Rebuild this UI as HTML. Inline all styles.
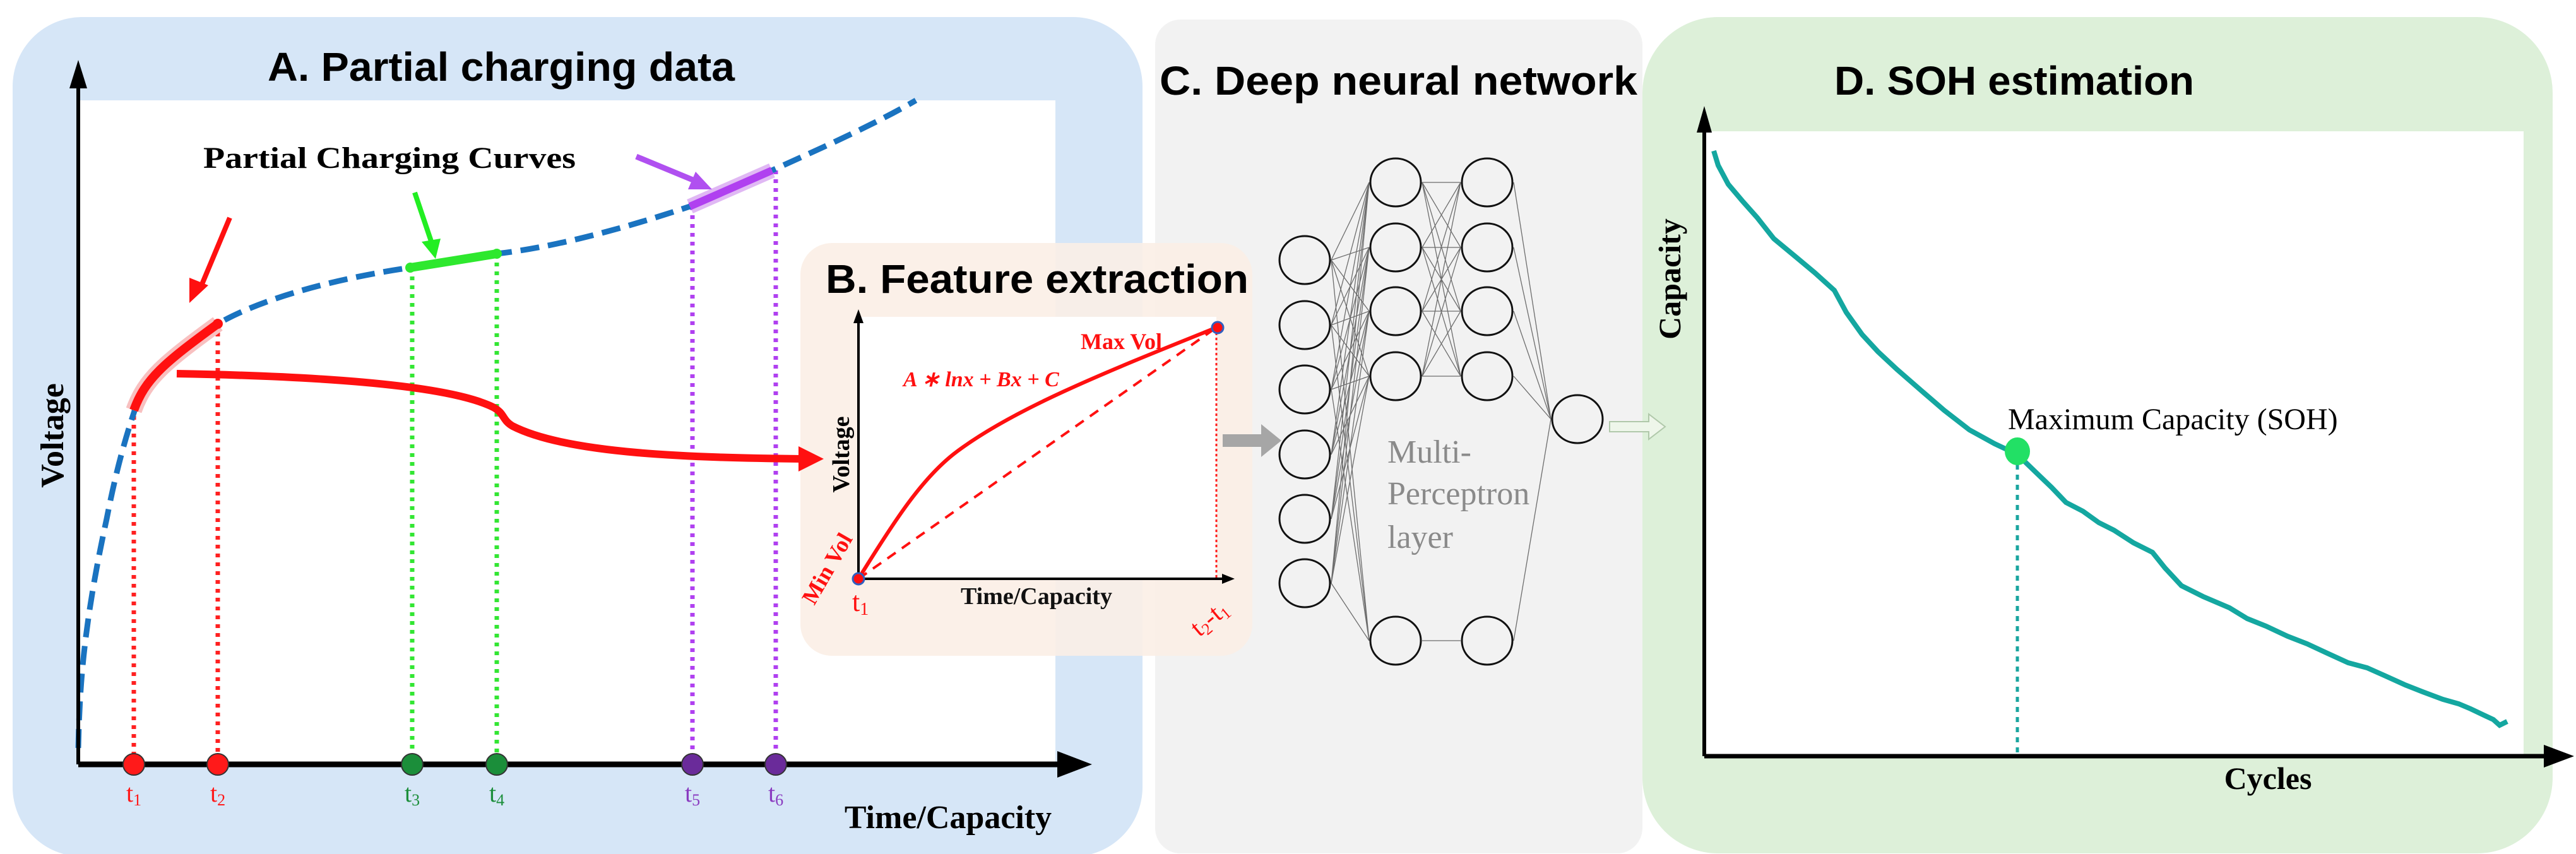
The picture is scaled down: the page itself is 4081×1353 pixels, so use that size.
<!DOCTYPE html>
<html><head><meta charset="utf-8"><style>
html,body{margin:0;padding:0;background:#fff;}
svg{display:block;}
.ti{font-family:"Liberation Sans",sans-serif;font-weight:bold;}
.se{font-family:"Liberation Serif",serif;}
</style></head><body>
<svg width="4081" height="1353" viewBox="0 0 4081 1353" xmlns="http://www.w3.org/2000/svg">
<!-- Panel A -->
<rect x="20" y="27" width="1790" height="1330" rx="110" fill="#d6e6f7"/>
<rect x="124" y="159" width="1548" height="1052" fill="#fff"/>
<!-- Panel C -->
<rect x="1830" y="31" width="772" height="1321" rx="40" fill="#f2f2f2"/>
<!-- Panel D -->
<rect x="2602" y="27" width="1442" height="1325" rx="120" fill="#ddf0d9"/>
<rect x="2700" y="208" width="1298" height="990" fill="#fff"/>
<!-- Panel B -->
<rect x="1268" y="385" width="716" height="654" rx="50" fill="#fbeee6" opacity="0.9"/>
<rect x="1360" y="502" width="567" height="417" fill="#fff"/>

<!-- Titles -->
<text x="794" y="128" class="ti" font-size="64" text-anchor="middle" textLength="740" lengthAdjust="spacingAndGlyphs">A. Partial charging data</text>
<text x="1308" y="464" class="ti" font-size="64" textLength="670" lengthAdjust="spacingAndGlyphs">B. Feature extraction</text>
<text x="1837" y="150" class="ti" font-size="64" textLength="757" lengthAdjust="spacingAndGlyphs">C. Deep neural network</text>
<text x="2906" y="150" class="ti" font-size="64" textLength="570" lengthAdjust="spacingAndGlyphs">D. SOH estimation</text>

<!-- Panel A plot -->
<g stroke-width="7" fill="none" stroke-dasharray="6,8">
<line x1="212" y1="645" x2="212" y2="1211" stroke="#ff2020"/>
<line x1="345" y1="513" x2="345" y2="1211" stroke="#ff2020"/>
<line x1="653" y1="424" x2="653" y2="1211" stroke="#33e633"/>
<line x1="787" y1="402" x2="787" y2="1211" stroke="#33e633"/>
<line x1="1097" y1="327" x2="1097" y2="1211" stroke="#b040f0"/>
<line x1="1229" y1="270" x2="1229" y2="1211" stroke="#b040f0"/>
</g>
<path d="M124,1185 C126,1100 130,1000 169,822 C185,740 200,690 215,645 C250,590 300,545 345,513 C420,470 540,440 650,424 C700,416 750,410 787,402 C850,395 950,375 1093,327 C1150,305 1190,290 1223,270 C1300,235 1380,200 1451,159" fill="none" stroke="#1a73c0" stroke-width="9" stroke-dasharray="30,14"/>
<path d="M212,650 C230,600 260,575 345,513" fill="none" stroke="#f8c0c0" stroke-width="26"/>
<path d="M212,650 C230,600 260,575 345,513" fill="none" stroke="#ff1010" stroke-width="14"/>
<line x1="650" y1="424" x2="787" y2="402" stroke="#2ee82e" stroke-width="14"/>
<line x1="1093" y1="327" x2="1223" y2="270" stroke="#e0b8f4" stroke-width="24"/>
<line x1="1093" y1="327" x2="1223" y2="270" stroke="#b040f0" stroke-width="12"/>
<circle cx="650" cy="424" r="8" fill="#2ee82e"/><circle cx="787" cy="402" r="8" fill="#2ee82e"/><circle cx="345" cy="513" r="8" fill="#ff1010"/>
<line x1="364" y1="345" x2="318" y2="455" stroke="#ff1010" stroke-width="8"/>
<path d="M300,480 L300,440 L330,452 z" fill="#ff1010"/>
<line x1="657" y1="305" x2="684" y2="385" stroke="#22ee22" stroke-width="8"/>
<path d="M690,410 L668,383 L698,378 z" fill="#22ee22"/>
<line x1="1008" y1="248" x2="1100" y2="286" stroke="#b050f0" stroke-width="9"/>
<path d="M1128,300 L1090,300 L1102,272 z" fill="#b050f0"/>
<path d="M280,592 C450,595 700,605 781,645 C800,655 795,665 812,675 C900,720 1100,725 1270,727" fill="none" stroke="#ff1010" stroke-width="12"/>
<path d="M1305,727 L1265,707 L1265,747 z" fill="#ff1010"/>
<text x="322" y="266" class="se" font-weight="bold" font-size="48" textLength="590" lengthAdjust="spacingAndGlyphs">Partial Charging Curves</text>
<line x1="124" y1="1211" x2="124" y2="125" stroke="#000" stroke-width="6"/>
<path d="M124,95 L110,140 L138,140 z" fill="#000"/>
<line x1="124" y1="1211" x2="1700" y2="1211" stroke="#000" stroke-width="9"/>
<path d="M1730,1211 L1675,1190 L1675,1232 z" fill="#000"/>
<g stroke="#333" stroke-width="2">
<circle cx="212" cy="1211" r="17" fill="#ff1a1a"/><circle cx="345" cy="1211" r="17" fill="#ff1a1a"/>
<circle cx="653" cy="1211" r="17" fill="#1b8e3a"/><circle cx="787" cy="1211" r="17" fill="#1b8e3a"/>
<circle cx="1097" cy="1211" r="17" fill="#6a2b9a"/><circle cx="1229" cy="1211" r="17" fill="#6a2b9a"/>
</g>
<g class="se" font-size="40">
<text x="200" y="1270" fill="#ff1a1a">t<tspan font-size="26" dy="6">1</tspan></text>
<text x="333" y="1270" fill="#ff1a1a">t<tspan font-size="26" dy="6">2</tspan></text>
<text x="641" y="1270" fill="#1b8e3a">t<tspan font-size="26" dy="6">3</tspan></text>
<text x="775" y="1270" fill="#1b8e3a">t<tspan font-size="26" dy="6">4</tspan></text>
<text x="1085" y="1270" fill="#8a3bc0">t<tspan font-size="26" dy="6">5</tspan></text>
<text x="1217" y="1270" fill="#8a3bc0">t<tspan font-size="26" dy="6">6</tspan></text>
</g>
<text x="1502" y="1312" class="se" font-weight="bold" font-size="52" text-anchor="middle">Time/Capacity</text>
<text transform="translate(100,690) rotate(-90)" class="se" font-weight="bold" font-size="52" text-anchor="middle">Voltage</text>

<!-- Panel B plot -->
<line x1="1927" y1="519" x2="1927" y2="917" stroke="#ff2020" stroke-width="3" stroke-dasharray="4,4"/>
<line x1="1360" y1="917" x2="1360" y2="505" stroke="#000" stroke-width="4"/>
<path d="M1360,490 L1352,512 L1368,512 z" fill="#000"/>
<line x1="1360" y1="917" x2="1945" y2="917" stroke="#000" stroke-width="4"/>
<path d="M1956,917 L1936,909 L1936,925 z" fill="#000"/>
<line x1="1360" y1="917" x2="1927" y2="519" stroke="#ff1010" stroke-width="4" stroke-dasharray="16,12"/>
<path d="M1360,917 C1420,820 1460,760 1510,720 C1600,650 1750,590 1927,519" fill="none" stroke="#ff1010" stroke-width="6"/>
<circle cx="1360" cy="917" r="9" fill="#ff1010" stroke="#3060c0" stroke-width="3"/>
<circle cx="1929" cy="519" r="9" fill="#ff1010" stroke="#3060c0" stroke-width="3"/>
<text x="1712" y="553" class="se" font-weight="bold" font-size="36" fill="#ff1010">Max Vol</text>
<text x="1431" y="612" class="se" font-weight="bold" font-style="italic" font-size="34" fill="#ff1010">A ∗ lnx + Bx + C</text>
<text x="1642" y="957" class="se" font-weight="bold" font-size="38" text-anchor="middle" fill="#111">Time/Capacity</text>
<text transform="translate(1345,720) rotate(-90)" class="se" font-weight="bold" font-size="38" text-anchor="middle">Voltage</text>
<text transform="translate(1290,960) rotate(-60)" class="se" font-weight="bold" font-size="36" fill="#ff1010">Min Vol</text>
<text x="1350" y="968" class="se" font-size="44" fill="#ff1010">t<tspan font-size="28" dy="6">1</tspan></text>
<text transform="translate(1900,1010) rotate(-40)" class="se" font-size="42" fill="#ff1010">t<tspan font-size="26" dy="6">2</tspan><tspan dy="-6">-t</tspan><tspan font-size="26" dy="6">1</tspan></text>

<path d="M1937,688 L1998,688 L1998,672 L2030,698 L1998,724 L1998,708 L1937,708 z" fill="#a6a6a6"/>
<path d="M2550,668 L2612,668 L2612,656 L2638,676 L2612,696 L2612,684 L2550,684 z" fill="#eef6ea" stroke="#b0c8aa" stroke-width="2"/>

<!-- Neural net -->
<g stroke="#555" stroke-width="1.3" opacity="0.85">
<line x1="2109" y1="412" x2="2169" y2="289"/><line x1="2109" y1="412" x2="2169" y2="392"/><line x1="2109" y1="412" x2="2169" y2="493"/><line x1="2109" y1="412" x2="2169" y2="596"/><line x1="2109" y1="412" x2="2169" y2="1015"/>
<line x1="2109" y1="515" x2="2169" y2="289"/><line x1="2109" y1="515" x2="2169" y2="392"/><line x1="2109" y1="515" x2="2169" y2="493"/><line x1="2109" y1="515" x2="2169" y2="596"/><line x1="2109" y1="515" x2="2169" y2="1015"/>
<line x1="2109" y1="617" x2="2169" y2="289"/><line x1="2109" y1="617" x2="2169" y2="392"/><line x1="2109" y1="617" x2="2169" y2="493"/><line x1="2109" y1="617" x2="2169" y2="596"/><line x1="2109" y1="617" x2="2169" y2="1015"/>
<line x1="2109" y1="720" x2="2169" y2="289"/><line x1="2109" y1="720" x2="2169" y2="392"/><line x1="2109" y1="720" x2="2169" y2="493"/><line x1="2109" y1="720" x2="2169" y2="596"/>
<line x1="2109" y1="822" x2="2169" y2="289"/><line x1="2109" y1="822" x2="2169" y2="392"/><line x1="2109" y1="822" x2="2169" y2="493"/><line x1="2109" y1="822" x2="2169" y2="596"/>
<line x1="2109" y1="924" x2="2169" y2="289"/><line x1="2109" y1="924" x2="2169" y2="392"/><line x1="2109" y1="924" x2="2169" y2="493"/><line x1="2109" y1="924" x2="2169" y2="596"/><line x1="2109" y1="924" x2="2169" y2="1015"/>
<line x1="2253" y1="289" x2="2314" y2="289"/><line x1="2253" y1="289" x2="2314" y2="392"/><line x1="2253" y1="289" x2="2314" y2="493"/><line x1="2253" y1="289" x2="2314" y2="596"/>
<line x1="2253" y1="392" x2="2314" y2="289"/><line x1="2253" y1="392" x2="2314" y2="392"/><line x1="2253" y1="392" x2="2314" y2="493"/><line x1="2253" y1="392" x2="2314" y2="596"/>
<line x1="2253" y1="493" x2="2314" y2="289"/><line x1="2253" y1="493" x2="2314" y2="392"/><line x1="2253" y1="493" x2="2314" y2="493"/><line x1="2253" y1="493" x2="2314" y2="596"/>
<line x1="2253" y1="596" x2="2314" y2="289"/><line x1="2253" y1="596" x2="2314" y2="392"/><line x1="2253" y1="596" x2="2314" y2="493"/><line x1="2253" y1="596" x2="2314" y2="596"/>
<line x1="2253" y1="1015" x2="2314" y2="1015"/>
<line x1="2398" y1="289" x2="2457" y2="664"/><line x1="2398" y1="392" x2="2457" y2="664"/><line x1="2398" y1="493" x2="2457" y2="664"/><line x1="2398" y1="596" x2="2457" y2="664"/><line x1="2398" y1="1015" x2="2457" y2="664"/>
</g>
<g fill="none" stroke="#111" stroke-width="3">
<ellipse cx="2067" cy="412" rx="40" ry="38"/><ellipse cx="2067" cy="515" rx="40" ry="38"/><ellipse cx="2067" cy="617" rx="40" ry="38"/><ellipse cx="2067" cy="720" rx="40" ry="38"/><ellipse cx="2067" cy="822" rx="40" ry="38"/><ellipse cx="2067" cy="924" rx="40" ry="38"/>
<ellipse cx="2211" cy="289" rx="40" ry="38"/><ellipse cx="2211" cy="392" rx="40" ry="38"/><ellipse cx="2211" cy="493" rx="40" ry="38"/><ellipse cx="2211" cy="596" rx="40" ry="38"/><ellipse cx="2211" cy="1015" rx="40" ry="38"/>
<ellipse cx="2356" cy="289" rx="40" ry="38"/><ellipse cx="2356" cy="392" rx="40" ry="38"/><ellipse cx="2356" cy="493" rx="40" ry="38"/><ellipse cx="2356" cy="596" rx="40" ry="38"/><ellipse cx="2356" cy="1015" rx="40" ry="38"/>
<ellipse cx="2499" cy="664" rx="40" ry="38"/>
</g>
<g class="se" font-size="52" fill="#8a8a8a">
<text x="2198" y="733">Multi-</text>
<text x="2198" y="799">Perceptron</text>
<text x="2198" y="868">layer</text>
</g>

<!-- Panel D plot -->
<line x1="3196" y1="720" x2="3196" y2="1198" stroke="#1aa59f" stroke-width="5" stroke-dasharray="8,8"/>
<path d="M2715,239 L2722,262 L2738,292 L2760,318 L2784,345 L2810,378 L2845,407 L2875,432 L2906,460 L2925,495 L2950,530 L2975,557 L3005,585 L3044,619 L3080,650 L3120,681 L3160,703 L3196,720 L3225,748 L3250,772 L3273,796 L3300,810 L3325,828 L3349,840 L3380,860 L3410,875 L3430,900 L3456,928 L3490,945 L3532,963 L3560,980 L3590,992 L3624,1008 L3655,1020 L3685,1034 L3720,1050 L3750,1058 L3777,1070 L3810,1085 L3838,1096 L3870,1108 L3895,1115 L3914,1123 L3935,1133 L3950,1140 L3960,1149 L3972,1143" fill="none" stroke="#14a7a0" stroke-width="8"/>
<ellipse cx="3196" cy="715" rx="20" ry="22" fill="#22e065"/>
<text x="3181" y="680" class="se" font-size="48">Maximum Capacity (SOH)</text>
<line x1="2700" y1="1198" x2="2700" y2="200" stroke="#000" stroke-width="6"/>
<path d="M2700,168 L2688,210 L2712,210 z" fill="#000"/>
<line x1="2700" y1="1198" x2="4050" y2="1198" stroke="#000" stroke-width="7"/>
<path d="M4078,1198 L4030,1180 L4030,1216 z" fill="#000"/>
<text x="3593" y="1250" class="se" font-weight="bold" font-size="50" text-anchor="middle">Cycles</text>
<text transform="translate(2662,442) rotate(-90)" class="se" font-weight="bold" font-size="50" text-anchor="middle">Capacity</text>
</svg>
</body></html>
